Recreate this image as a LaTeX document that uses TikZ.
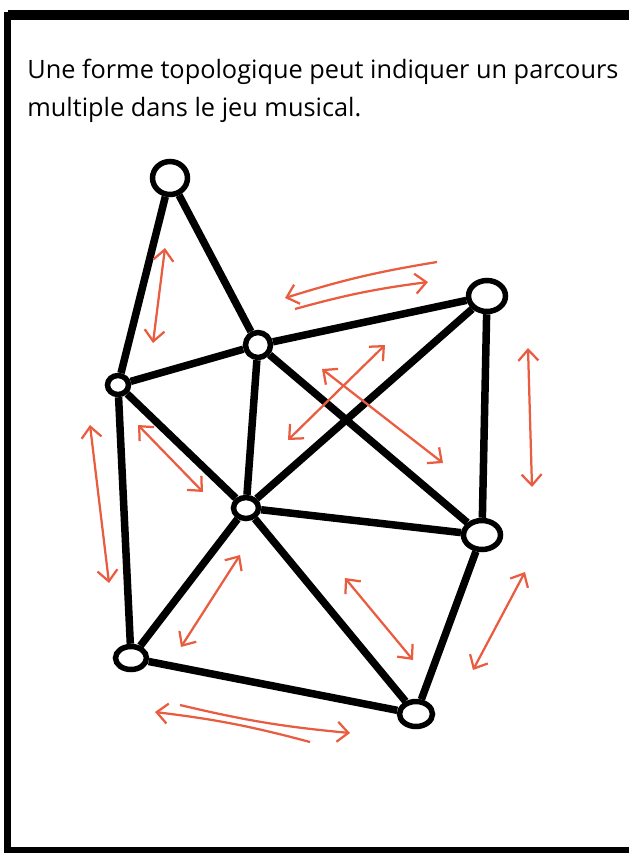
\documentclass[tikz,border=0pt]{standalone}
\usepackage{fontspec}
\setmainfont{Open Sans}
\usetikzlibrary{arrows.meta,shapes.geometric}
\definecolor{flowred}{RGB}{234,92,64}

\begin{document}
\begin{tikzpicture}[
x=0.2mm, y=-0.2mm,
vertex/.style={draw, ellipse, fill=white, line width=1.1mm, inner sep=0pt},
edge/.style={line width=1.5mm},
flow/.style={draw=flowred, line width=0.45mm, {Straight Barb[length=2.2mm,width=4mm]}-{Straight Barb[length=2.2mm,width=4mm]}},
half/.style={draw=flowred, line width=0.45mm, -{Straight Barb[length=2.2mm,width=4mm]}},
caption/.style={anchor=base west, inner sep=0pt, font=\fontsize{14.4}{17}\selectfont}
]
\useasboundingbox (0,0) rectangle (629,855);
\clip (0,0) rectangle (629,855);
% frame, open to the right
\draw[line width=1.2mm] (629,850) -- (7.5,850) -- (7.5,15) -- (629,15);
\draw[line width=2mm] (7.5,15) -- (629,15);
\node[caption] (line1) at (27,78) {Une forme topologique peut indiquer un parcours};
\node[caption] (line2) at (27,116) {multiple dans le jeu musical.};
% vertices
\node[vertex, minimum width=7mm, minimum height=6.6mm] (top) at (170,178) {};
\node[vertex, minimum width=5mm, minimum height=5mm] (mid) at (258,345) {};
\node[vertex, minimum width=4.2mm, minimum height=3.8mm] (west) at (118,385) {};
\node[vertex, minimum width=7.4mm, minimum height=6.2mm] (ne) at (487,296) {};
\node[vertex, minimum width=5mm, minimum height=4.2mm] (hub) at (246,508) {};
\node[vertex, minimum width=7.4mm, minimum height=5.8mm] (east) at (482,535) {};
\node[vertex, minimum width=6.2mm, minimum height=4.6mm] (sw) at (131,658) {};
\node[vertex, minimum width=6.6mm, minimum height=5mm] (south) at (416,714) {};
% edges
\draw[edge] (top) -- (west);
\draw[edge] (top) -- (mid);
\draw[edge] (west) -- (mid);
\draw[edge] (mid) -- (ne);
\draw[edge] (west) -- (hub);
\draw[edge] (west) -- (sw);
\draw[edge] (mid) -- (hub);
\draw[edge] (mid) -- (east);
\draw[edge] (ne) -- (east);
\draw[edge] (ne) -- (hub);
\draw[edge] (hub) -- (east);
\draw[edge] (hub) -- (sw);
\draw[edge] (hub) -- (south);
\draw[edge] (sw) -- (south);
\draw[edge] (east) -- (south);
% paths
\draw[flow] (165,248) -- (153,343);
\draw[flow] (385,345) -- (288,440);
\draw[flow] (322,369) -- (443,463);
\draw[flow] (528,348) -- (532,487);
\draw[flow] (90,425) -- (109,583);
\draw[flow] (138,425) -- (203,492);
\draw[flow] (240,555) -- (181,647);
\draw[flow] (345,578) -- (413,660);
\draw[flow] (525,572) -- (473,670);
\draw[half] (437,262) to[bend right=4] (285,298);
\draw[half] (295,309) to[bend left=4] (428,282);
\draw[half] (310,742) to[bend right=4] (155,712);
\draw[half] (180,705) to[bend right=4] (350,733);
\end{tikzpicture}
\end{document}
